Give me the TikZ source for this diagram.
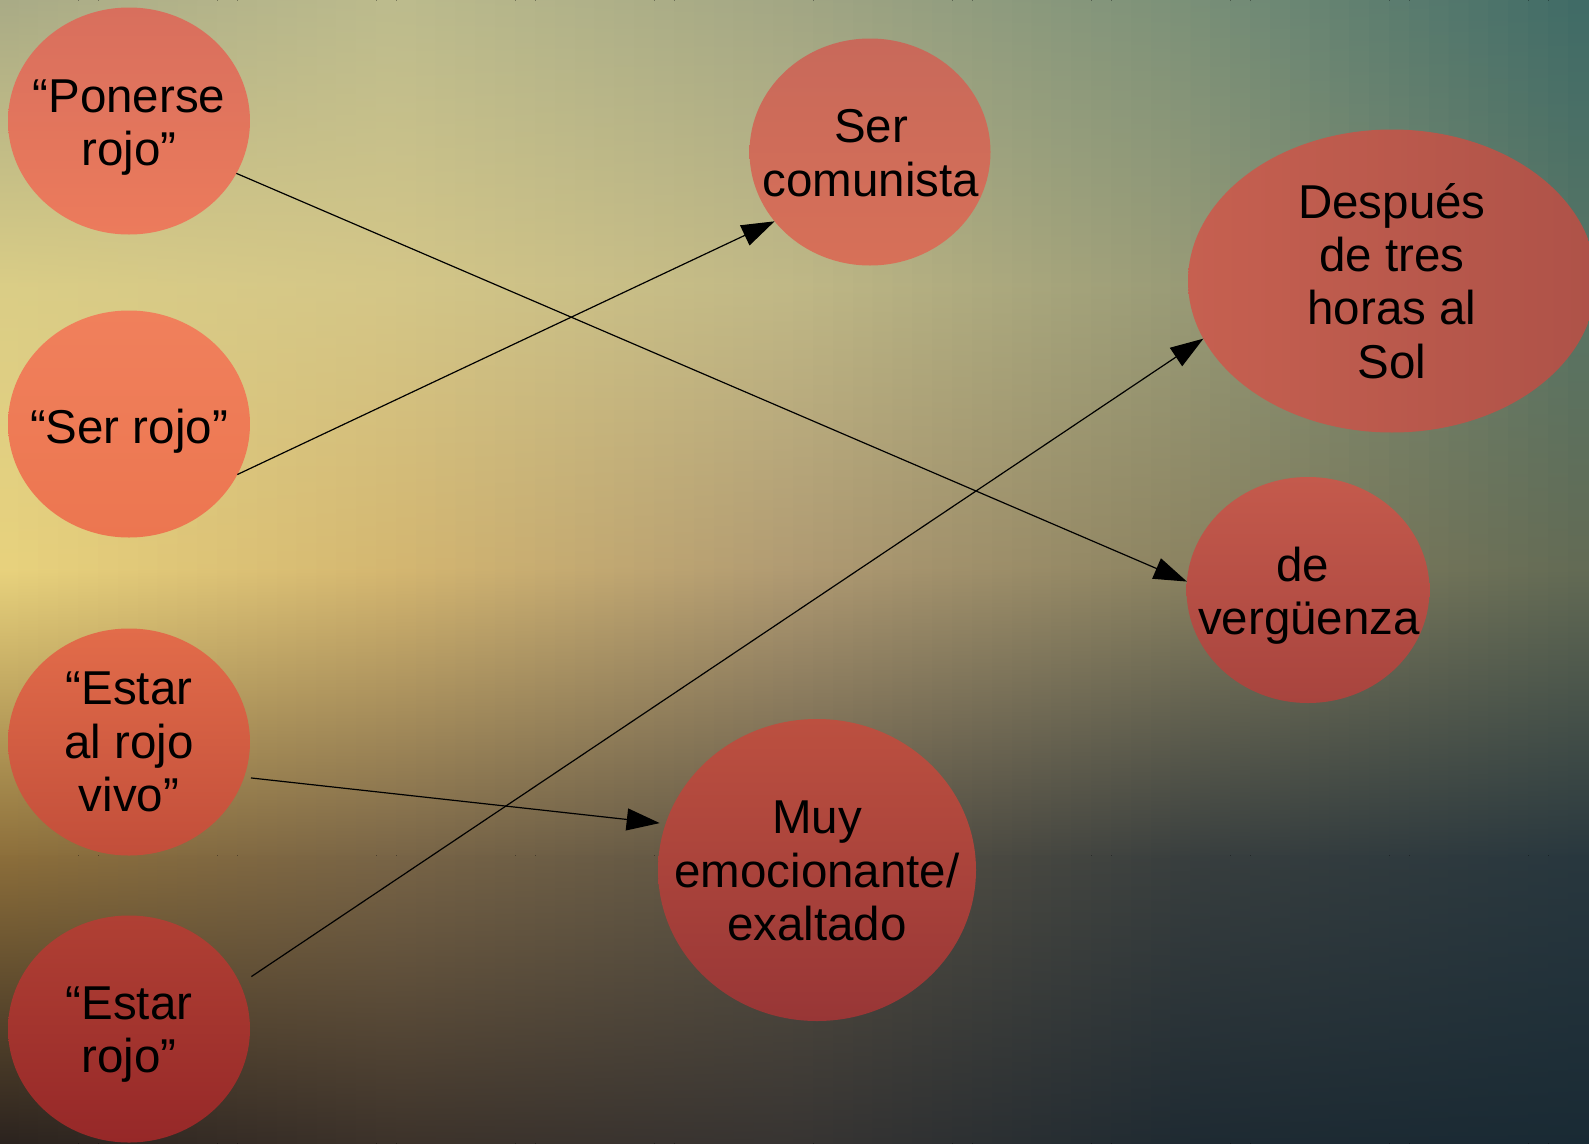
\documentclass[tikz,border=0pt]{standalone}
\usepackage{fontspec}
\setmainfont{Liberation Sans}
\usetikzlibrary{arrows.meta,shapes.geometric}
% background control colours: bg<row><col>, rows y=0,285,570,855,1143 ; cols x=0,400,800,1200,1589
\definecolor{bg00}{RGB}{168,170,134}
\definecolor{bg01}{RGB}{188,187,141}
\definecolor{bg02}{RGB}{162,166,132}
\definecolor{bg03}{RGB}{122,144,120}
\definecolor{bg04}{RGB}{62,106,102}
\definecolor{bg10}{RGB}{218,205,134}
\definecolor{bg11}{RGB}{212,198,135}
\definecolor{bg12}{RGB}{192,184,134}
\definecolor{bg13}{RGB}{152,154,118}
\definecolor{bg14}{RGB}{86,116,100}
\definecolor{bg20}{RGB}{232,210,125}
\definecolor{bg21}{RGB}{212,182,112}
\definecolor{bg22}{RGB}{176,154,114}
\definecolor{bg23}{RGB}{138,130,96}
\definecolor{bg24}{RGB}{98,106,84}
\definecolor{bg30}{RGB}{140,110,58}
\definecolor{bg31}{RGB}{120,100,70}
\definecolor{bg32}{RGB}{92,84,68}
\definecolor{bg33}{RGB}{56,62,62}
\definecolor{bg34}{RGB}{40,55,62}
\definecolor{bg40}{RGB}{42,34,30}
\definecolor{bg41}{RGB}{60,50,42}
\definecolor{bg42}{RGB}{55,52,50}
\definecolor{bg43}{RGB}{30,42,50}
\definecolor{bg44}{RGB}{25,42,52}
\definecolor{bgbase}{RGB}{120,110,90}
\begin{document}
\begin{tikzpicture}[x=1pt,y=-1pt,
  blob/.style={ellipse,draw=none,inner sep=0pt,outer sep=0pt},
  smallblob/.style={blob,minimum width=242pt,minimum height=227pt},
  lbl/.style={align=center,text=black,inner sep=0pt,
    font=\fontsize{47.5}{53.3}\selectfont,
    execute at begin node=\strut,execute at end node=\strut},
  link/.style={line width=1.2pt,draw=black,-{Triangle[length=33pt,width=22pt]}}]
\useasboundingbox (0,0) rectangle (1589,1143);
% background
\fill[bgbase] (-5,-5) rectangle (1595,1150);
\foreach \k in {0,1,2,3}{
  \foreach \j in {0,...,79}{
    \pgfmathsetmacro\xa{\j*19.8625-1}
    \pgfmathsetmacro\xb{(\j+1)*19.8625+1}
    \pgfmathsetmacro\xc{(\j+0.5)*19.8625}
    \pgfmathtruncatemacro\s{min(3,floor(\xc/397.25))}
    \pgfmathtruncatemacro\sn{\s+1}
    \pgfmathtruncatemacro\kn{\k+1}
    \pgfmathsetmacro\p{100-(\xc-\s*397.25)/3.9725}
    \pgfmathsetmacro\ya{\k*285.75-2}
    \pgfmathsetmacro\yb{(\k+1)*285.75+2}
    \edef\tmp{\noexpand\colorlet{topc}{bg\k\s!\p!bg\k\sn}\noexpand\colorlet{botc}{bg\kn\s!\p!bg\kn\sn}}\tmp
    \fill[top color=topc,bottom color=botc] (\xa,\ya) rectangle (\xb,\yb);
  }
}
% ellipses
\node[smallblob,top color={rgb,255:red,216;green,111;blue,93},bottom color={rgb,255:red,236;green,123;blue,92}] (p) at (129,121) {};
\node[smallblob,top color={rgb,255:red,240;green,128;blue,92},bottom color={rgb,255:red,236;green,118;blue,80}] (sr) at (129,424) {};
\node[smallblob,top color={rgb,255:red,226;green,108;blue,74},bottom color={rgb,255:red,194;green,78;blue,58}] (ev) at (129,742) {};
\node[smallblob,top color={rgb,255:red,176;green,64;blue,52},bottom color={rgb,255:red,150;green,40;blue,40}] (er) at (129,1029) {};
\node[blob,minimum width=241pt,minimum height=227pt,top color={rgb,255:red,200;green,105;blue,90},bottom color={rgb,255:red,215;green,112;blue,88}] (c) at (870,152) {};
\node[blob,minimum width=408pt,minimum height=303pt,left color={rgb,255:red,198;green,96;blue,80},right color={rgb,255:red,174;green,82;blue,72}] (d) at (1392,281) {};
\node[blob,minimum width=243pt,minimum height=226pt,top color={rgb,255:red,196;green,90;blue,76},bottom color={rgb,255:red,168;green,68;blue,62}] (v) at (1308,590) {};
\node[blob,minimum width=318pt,minimum height=302pt,top color={rgb,255:red,188;green,80;blue,64},bottom color={rgb,255:red,152;green,54;blue,54}] (m) at (817,870) {};
% labels
\node[lbl] (pt) at (129,130.4) {“Ponerse\\rojo”};
\node[lbl] (srt) at (129,432.4) {“Ser rojo”};
\node[lbl] (evt) at (129,749.7) {“Estar\\al rojo\\vivo”};
\node[lbl] (ert) at (129,1037.4) {“Estar\\rojo”};
\node[lbl] (ct) at (871,160.9) {Ser\\comunista};
\node[lbl] (dt) at (1392,288.6) {Después\\de tres\\horas al\\Sol};
\node[lbl] (vt) at (1309,598.7) {de\kern13pt\\vergüenza};
\node[lbl] (mt) at (817,878.9) {Muy\\emocionante/\\exaltado};
% connectors
\draw[link] (p.-26.35) -- (v.176.7);
\draw[link] (sr.-25.9) -- (c.216.6);
\draw[link,shorten <=7pt,shorten >=6pt] (ev.-17.5) -- (m.163.4);
\draw[link,shorten <=13.6pt] (er.22.3) -- (d.197.6);
\end{tikzpicture}
\end{document}
